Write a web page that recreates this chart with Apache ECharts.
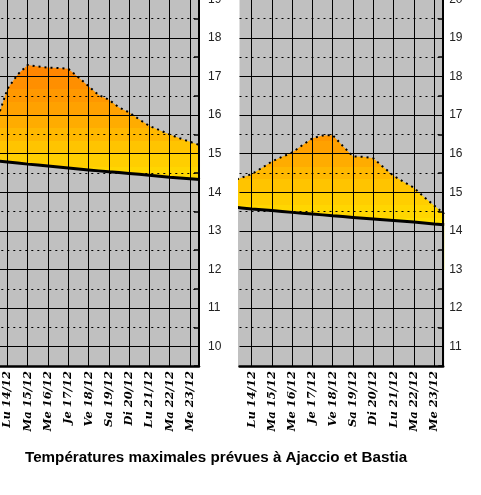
<!DOCTYPE html>
<html>
<head>
<meta charset="utf-8">
<script src="https://cdn.jsdelivr.net/npm/echarts@6/dist/echarts.min.js"></script>
<style>
html,body{margin:0;padding:0;background:#fff;}
#c{width:481px;height:495px;}
</style>
</head>
<body>
<div id="c"></div>
<script>
// ---- data ----
const days = ['Lu 14/12','Ma 15/12','Me 16/12','Je 17/12','Ve 18/12','Sa 19/12','Di 20/12','Lu 21/12','Ma 22/12','Me 23/12'];
const dayIdx = [0,1,2,3,4,5,6,7,8,9];
const xs = [-1,-0.5,0,0.5,1,1.5,2,2.5,3,3.5,4,4.5,5,5.5,6,6.5,7,7.5,8,8.5,9,9.5];
const ajaccioMax = [15.4,15.9,16.68,17.05,17.3,17.26,17.23,17.22,17.2,16.98,16.75,16.52,16.4,16.2,16.07,15.89,15.72,15.61,15.5,15.4,15.31,15.22];
const ajaccioNorm = [14.84,14.81,14.785,14.76,14.73,14.705,14.68,14.655,14.63,14.605,14.58,14.555,14.53,14.51,14.49,14.465,14.44,14.415,14.39,14.37,14.35,14.33];
const bastiaMax = [15.28,15.38,15.47,15.63,15.8,15.92,16.03,16.22,16.4,16.47,16.48,16.2,15.93,15.92,15.88,15.65,15.43,15.27,15.12,14.88,14.66,14.44];
const bastiaNorm = [14.62,14.595,14.57,14.55,14.53,14.505,14.48,14.46,14.44,14.415,14.39,14.37,14.35,14.33,14.31,14.29,14.27,14.25,14.23,14.205,14.18,14.16];
const leftTicks = [10,11,12,13,14,15,16,17,18,19];
const leftHalf = [9.5,10.5,11.5,12.5,13.5,14.5,15.5,16.5,17.5,18.5,19.5];
const rightTicks = [11,12,13,14,15,16,17,18,19,20];
const rightHalf = [10.5,11.5,12.5,13.5,14.5,15.5,16.5,17.5,18.5,19.5,20.5];
const titleText = 'Températures maximales prévues à Ajaccio et Bastia';

// ---- styling helpers ----
const anchors = [[13.5,[255,236,0]],[14,[255,226,0]],[15,[255,202,0]],[16,[255,166,0]],[17,[255,138,0]],[18,[255,116,0]]];
function colorAt(v){
  if (v <= anchors[0][0]) return 'rgb('+anchors[0][1].join(',')+')';
  for (let i=1;i<anchors.length;i++){
    if (v <= anchors[i][0]){
      const a=anchors[i-1], b=anchors[i];
      const t=(v-a[0])/(b[0]-a[0]);
      const c=a[1].map((x,k)=>Math.round(x+(b[1][k]-x)*t));
      return 'rgb('+c.join(',')+')';
    }
  }
  return 'rgb('+anchors[anchors.length-1][1].join(',')+')';
}
const pieces = [];
for (let k=0;k<18;k++){
  const a = 13 + k/3, b = 13 + (k+1)/3;
  pieces.push({gte:a, lt:b, color: colorAt((a+b)/2)});
}
const zip = (x,y)=>x.map((v,i)=>[v,y[i]]);

const chart = echarts.init(document.getElementById('c'), null, {renderer:'canvas'});
const gridH = 386, gridW = 203.7;
function xAxisCfg(gi){
  return {
    type:'value', gridIndex:gi, min:-0.6, max:9.45, z:5,
    axisLine:{show:true, onZero:false, lineStyle:{color:'#000', width:2.5}},
    axisTick:{show:false, customValues: dayIdx},
    axisLabel:{customValues: dayIdx, rotate:90, margin:5, color:'#000',
      fontFamily:'DejaVu Serif', fontStyle:'italic', fontWeight:'bold', fontSize:11.5,
      formatter:(v)=>days[Math.round(v)]},
    splitLine:{show:true, lineStyle:{color:'#000', width:1}}
  };
}
function yMain(gi, mn, ticks, margin){
  return {
    type:'value', gridIndex:gi, position:'right', min:mn, max:mn+10, z:5,
    axisLine:{show:true, onZero:false, lineStyle:{color:'#000', width:2}},
    axisTick:{show:true, inside:true, length:5, customValues:ticks, lineStyle:{color:'#000'}},
    axisLabel:{customValues:ticks, margin:margin, color:'#222', fontFamily:'Liberation Sans', fontSize:12},
    splitLine:{show:true, lineStyle:{color:'#000', width:1}}
  };
}
function yHalf(gi, mn, halves){
  return {
    type:'value', gridIndex:gi, position:'right', min:mn, max:mn+10, z:5,
    axisLine:{show:false, onZero:false},
    axisTick:{show:true, inside:true, length:5, customValues:halves, lineStyle:{color:'#000', width:1.5}},
    axisLabel:{show:false},
    splitLine:{show:true, lineStyle:{color:'#000', width:1, type:[2,4]}}
  };
}
function upper(xi, yi, data){
  return {type:'line', xAxisIndex:xi, yAxisIndex:yi, data:data, symbol:'none', z:2,
    lineStyle:{color:'#000', width:2, type:[2,4]},
    areaStyle:{opacity:1, origin:'start'}};
}
function lower(xi, yi, data){
  return {type:'line', xAxisIndex:xi, yAxisIndex:yi, data:data, symbol:'none', z:3,
    lineStyle:{color:'#000', width:3},
    areaStyle:{color:'#c0c0c0', opacity:1, origin:'start'}};
}

chart.setOption({
  animation:false,
  backgroundColor:'#fff',
  title:{text:titleText, left:20, top:445,
    textStyle:{fontFamily:'Liberation Sans', fontSize:15.2, fontWeight:'bold', color:'#000'}},
  grid:[
    {left:-4.7, top:-20, width:gridW, height:gridH, show:true, backgroundColor:'#c0c0c0', borderWidth:0, containLabel:false, outerBoundsMode:'none'},
    {left:239.5, top:-20, width:gridW, height:gridH, show:true, backgroundColor:'#c0c0c0', borderWidth:0, containLabel:false, outerBoundsMode:'none'}
  ],
  xAxis:[xAxisCfg(0), xAxisCfg(1)],
  yAxis:[yMain(0, 9.5, leftTicks, 9), yHalf(0, 9.5, leftHalf), yMain(1, 10.5, rightTicks, 6), yHalf(1, 10.5, rightHalf)],
  visualMap:[{type:'piecewise', show:false, dimension:1, seriesIndex:[0,2], pieces:pieces}],
  series:[
    upper(0, 0, zip(xs, ajaccioMax)),
    lower(0, 0, zip(xs, ajaccioNorm)),
    upper(1, 2, zip(xs, bastiaMax)),
    lower(1, 2, zip(xs, bastiaNorm))
  ]
});
</script>
</body>
</html>
